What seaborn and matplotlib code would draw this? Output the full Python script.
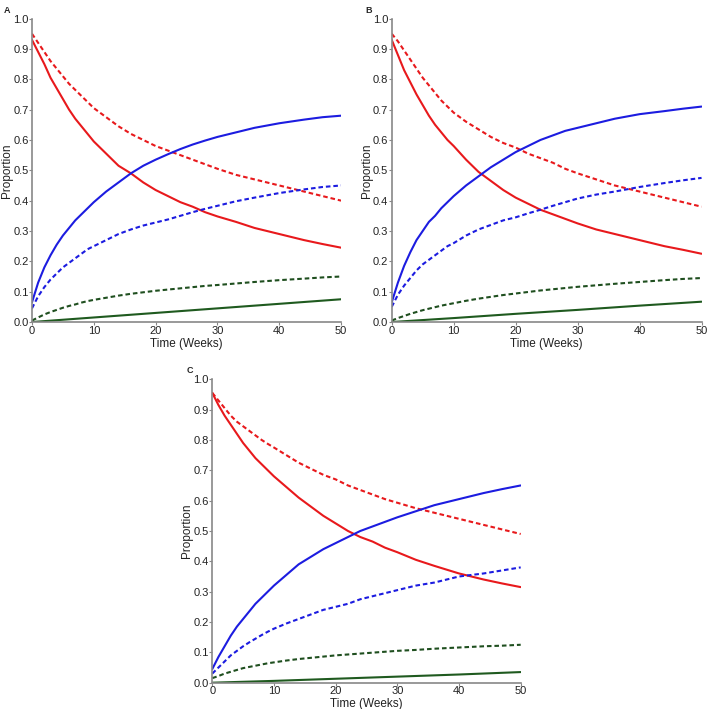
import matplotlib
matplotlib.use("Agg")
import matplotlib.pyplot as plt
import seaborn as sns
import pandas as pd

sns.set_style("ticks")
plt.rcParams['font.family'] = ['Liberation Sans', 'DejaVu Sans']

weeks = [0, 1, 2, 3, 4, 5, 6, 7, 8, 9, 10, 12, 14, 16, 18, 20, 22, 24, 26, 28, 30, 33, 36, 40, 44, 47, 50]
weeks_lin = [0, 10, 20, 30, 40, 50]

# Panel A
a_red_solid   = [0.93, 0.89, 0.85, 0.805, 0.77, 0.735, 0.70, 0.67, 0.645, 0.62, 0.595, 0.555, 0.515, 0.49,
                 0.46, 0.435, 0.415, 0.395, 0.38, 0.362, 0.348, 0.33, 0.31, 0.29, 0.27, 0.257, 0.245]
a_red_dash    = [0.95, 0.92, 0.89, 0.86, 0.835, 0.81, 0.785, 0.765, 0.745, 0.725, 0.705, 0.675, 0.645, 0.62,
                 0.60, 0.58, 0.565, 0.55, 0.535, 0.52, 0.505, 0.485, 0.47, 0.45, 0.43, 0.415, 0.40]
a_blue_solid  = [0.065, 0.13, 0.18, 0.22, 0.255, 0.285, 0.31, 0.335, 0.355, 0.375, 0.395, 0.43, 0.46, 0.49,
                 0.515, 0.535, 0.553, 0.57, 0.585, 0.598, 0.61, 0.625, 0.64, 0.655, 0.667, 0.675, 0.68]
a_blue_dash   = [0.045, 0.085, 0.115, 0.14, 0.16, 0.18, 0.195, 0.21, 0.225, 0.24, 0.25, 0.27, 0.29, 0.305,
                 0.318, 0.328, 0.338, 0.35, 0.362, 0.373, 0.383, 0.398, 0.41, 0.425, 0.437, 0.445, 0.45]
a_green_dash  = [0.005, 0.015, 0.025, 0.033, 0.04, 0.047, 0.053, 0.058, 0.064, 0.069, 0.073, 0.08, 0.087, 0.093,
                 0.098, 0.103, 0.107, 0.111, 0.115, 0.119, 0.122, 0.127, 0.132, 0.138, 0.143, 0.147, 0.15]
a_green_solid = [0.0, 0.015, 0.03, 0.045, 0.06, 0.075]

# Panel B
b_red_solid   = [0.93, 0.88, 0.83, 0.79, 0.75, 0.715, 0.68, 0.65, 0.625, 0.60, 0.58, 0.535, 0.495, 0.465,
                 0.435, 0.41, 0.39, 0.37, 0.355, 0.34, 0.325, 0.305, 0.29, 0.27, 0.25, 0.238, 0.225]
b_red_dash    = [0.95, 0.925, 0.895, 0.865, 0.835, 0.805, 0.78, 0.755, 0.73, 0.71, 0.69, 0.66, 0.635, 0.61,
                 0.59, 0.575, 0.555, 0.54, 0.525, 0.505, 0.49, 0.47, 0.45, 0.43, 0.41, 0.395, 0.38]
b_blue_solid  = [0.065, 0.13, 0.185, 0.23, 0.27, 0.30, 0.33, 0.35, 0.375, 0.395, 0.415, 0.45, 0.48, 0.51,
                 0.535, 0.56, 0.58, 0.60, 0.615, 0.63, 0.64, 0.655, 0.67, 0.685, 0.695, 0.703, 0.71]
b_blue_dash   = [0.05, 0.09, 0.12, 0.145, 0.17, 0.19, 0.205, 0.22, 0.235, 0.25, 0.26, 0.285, 0.305, 0.32,
                 0.335, 0.345, 0.358, 0.37, 0.383, 0.395, 0.407, 0.42, 0.43, 0.445, 0.458, 0.467, 0.475]
b_green_dash  = [0.005, 0.013, 0.02, 0.027, 0.033, 0.039, 0.044, 0.049, 0.054, 0.058, 0.062, 0.07, 0.077, 0.083,
                 0.089, 0.094, 0.099, 0.104, 0.108, 0.112, 0.116, 0.121, 0.126, 0.132, 0.138, 0.142, 0.145]
b_green_solid = [0.0, 0.013, 0.027, 0.04, 0.054, 0.067]

# Panel C
c_red_solid   = [0.955, 0.915, 0.88, 0.85, 0.82, 0.79, 0.765, 0.74, 0.72, 0.70, 0.68, 0.645, 0.61, 0.58,
                 0.55, 0.525, 0.50, 0.48, 0.465, 0.445, 0.43, 0.405, 0.385, 0.36, 0.34, 0.327, 0.315]
c_red_dash    = [0.955, 0.93, 0.905, 0.88, 0.86, 0.845, 0.83, 0.815, 0.80, 0.787, 0.775, 0.75, 0.725, 0.705,
                 0.685, 0.67, 0.65, 0.635, 0.62, 0.605, 0.593, 0.575, 0.56, 0.54, 0.52, 0.505, 0.49]
c_blue_solid  = [0.045, 0.085, 0.12, 0.155, 0.185, 0.21, 0.235, 0.26, 0.28, 0.30, 0.32, 0.355, 0.39, 0.415,
                 0.44, 0.46, 0.48, 0.50, 0.515, 0.53, 0.545, 0.565, 0.585, 0.605, 0.625, 0.638, 0.65]
c_blue_dash   = [0.03, 0.05, 0.07, 0.09, 0.105, 0.12, 0.133, 0.145, 0.157, 0.168, 0.178, 0.195, 0.21, 0.225,
                 0.24, 0.25, 0.26, 0.275, 0.285, 0.295, 0.305, 0.32, 0.33, 0.35, 0.36, 0.37, 0.38]
c_green_dash  = [0.015, 0.022, 0.03, 0.036, 0.042, 0.048, 0.052, 0.056, 0.06, 0.064, 0.067, 0.073, 0.078, 0.082,
                 0.086, 0.09, 0.093, 0.096, 0.099, 0.102, 0.105, 0.108, 0.112, 0.116, 0.12, 0.122, 0.125]
c_green_solid = [0.0, 0.006, 0.013, 0.02, 0.027, 0.035]

panels = {
    "A": [a_red_solid, a_red_dash, a_blue_solid, a_blue_dash, a_green_dash, a_green_solid],
    "B": [b_red_solid, b_red_dash, b_blue_solid, b_blue_dash, b_green_dash, b_green_solid],
    "C": [c_red_solid, c_red_dash, c_blue_solid, c_blue_dash, c_green_dash, c_green_solid],
}
series_style = [("#e8191c", "-"), ("#e8191c", "--"), ("#1c1ce0", "-"),
                ("#1c1ce0", "--"), ("#1f4f1f", "--"), ("#1f5a1f", "-")]

yticks = [0.0, 0.1, 0.2, 0.3, 0.4, 0.5, 0.6, 0.7, 0.8, 0.9, 1.0]
ytick_labels = ["0.0", "0.1", "0.2", "0.3", "0.4", "0.5", "0.6", "0.7", "0.8", "0.9", "1.0"]
xticks = [0, 10, 20, 30, 40, 50]

positions = {
    "A": [0.0451, 0.5458, 0.436, 0.428],
    "B": [0.5525, 0.5458, 0.437, 0.428],
    "C": [0.2994, 0.0371, 0.435, 0.428],
}
letter_pos = {"A": (0.006, 0.992), "B": (0.515, 0.992), "C": (0.263, 0.484)}

fig = plt.figure(figsize=(7.09, 7.09), dpi=100)
for key, series in panels.items():
    ax = fig.add_axes(positions[key])
    for vals, (col, ls) in zip(series, series_style):
        xs = weeks if len(vals) == len(weeks) else weeks_lin
        df = pd.DataFrame({"Time": xs, "Proportion": vals})
        sns.lineplot(data=df, x="Time", y="Proportion", ax=ax, color=col,
                     linewidth=1.5, linestyle=ls, errorbar=None)
    for ln in ax.get_lines():
        if ln.get_linestyle() == "--":
            ln.set_dashes((2.2, 1.4))
    ax.set_xlim(0, 50)
    ax.set_ylim(0, 1.0)
    ax.set_xticks(xticks)
    ax.set_yticks(yticks)
    ax.set_yticklabels(ytick_labels)
    ax.set_xlabel("Time (Weeks)", fontsize=8.5, labelpad=1.5, color="#222222")
    ax.set_ylabel("Proportion", fontsize=8.5, labelpad=0, color="#222222")
    ax.tick_params(axis="both", labelsize=8, length=2, width=0.8, pad=0.5,
                   color="#888888", labelcolor="#222222")
    for s in ["top", "right"]:
        ax.spines[s].set_visible(False)
    for s in ["left", "bottom"]:
        ax.spines[s].set_color("#888888")
        ax.spines[s].set_linewidth(1.2)
    ax.grid(False)
    fig.text(letter_pos[key][0], letter_pos[key][1], key, fontsize=6.5,
             fontweight="bold", ha="left", va="top")

fig.savefig("out.png", dpi=100, facecolor="white")
